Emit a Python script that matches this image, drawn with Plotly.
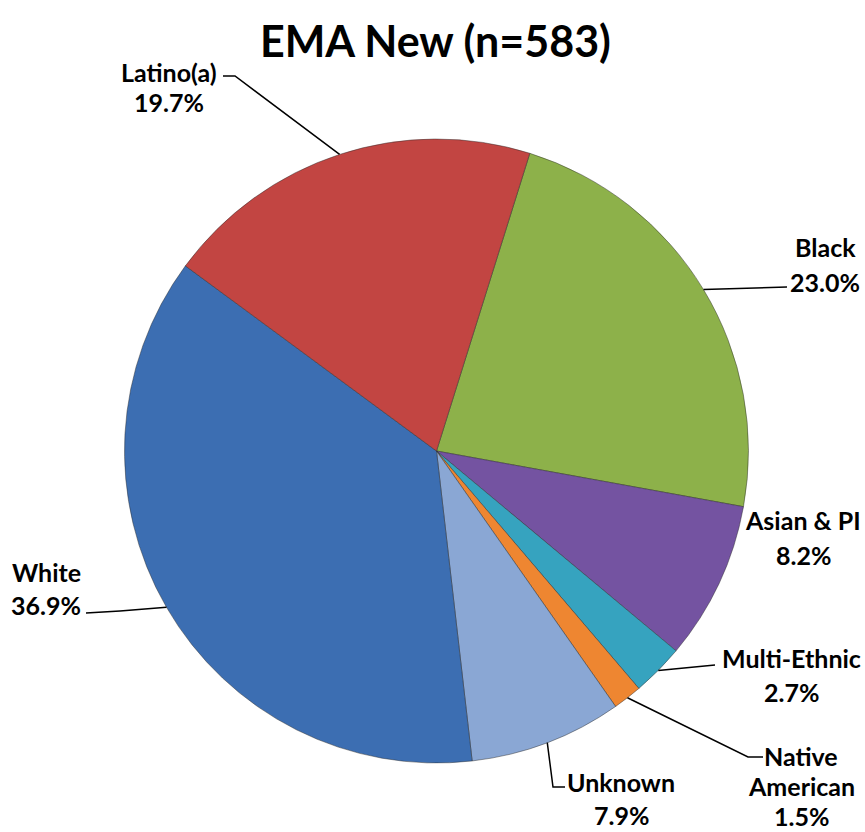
import math
import plotly.graph_objects as go

# ---- data ----
categories = ["Black", "Asian & PI", "Multi-Ethnic", "Native American", "Unknown", "White", "Latino(a)"]
percent = [23.0, 8.2, 2.7, 1.5, 7.9, 36.9, 19.7]
label_lines = [["Black", "23.0%"], ["Asian & PI", "8.2%"], ["Multi-Ethnic", "2.7%"],
               ["Native", "American", "1.5%"], ["Unknown", "7.9%"], ["White", "36.9%"],
               ["Latino(a)", "19.7%"]]
title_text = "EMA New (n=583)"

# ---- style / layout ----
colors = ["#8DB14A", "#7453A1", "#36A3BF", "#EE8631", "#8AA7D4", "#3C6EB2", "#C24542"]
W, H = 865, 832
CX, CY, R = 436.5, 451, 312
ROTATION = 17.4
FONT = "Lato"
LABEL_SIZE = 25

# label layout: (center x, first line y, line spacing), leader-line bend points (pixels)
label_pos = {
    "Black": (825, 247, 35, [(787, 287)]),
    "Asian & PI": (803, 520, 35, None),
    "Multi-Ethnic": (791, 658, 34, [(715, 665)]),
    "Native American": (801, 756, 30, [(748, 757), (763, 757)]),
    "Unknown": (621, 782, 33, [(553, 787), (565, 787)]),
    "White": (46, 572, 33, [(120, 611), (86, 613)]),
    "Latino(a)": (169, 72, 30, [(235, 76), (223, 76)]),
}


def px(x):
    return x / W


def py(y):
    return 1 - y / H


fig = go.Figure()
fig.add_trace(go.Pie(
    labels=categories, values=percent, sort=False, direction="clockwise",
    rotation=ROTATION, textinfo="none", hoverinfo="label+percent",
    marker=dict(colors=colors, line=dict(color="rgba(40,40,40,0.45)", width=1)),
    domain=dict(x=[px(CX - R), px(CX + R)], y=[py(CY + R), py(CY - R)]),
    showlegend=False,
))

total = sum(percent)
annotations = []
shapes = []
acc = 0.0
for cat, val, lines in zip(categories, percent, label_lines):
    mid = math.radians(ROTATION + (acc + val / 2) / total * 360)
    acc += val
    ax = CX + R * math.sin(mid)
    ay = CY - R * math.cos(mid)
    lx, ly, sp, bends = label_pos[cat]
    for i, t in enumerate(lines):
        annotations.append(dict(
            x=px(lx), y=py(ly + i * sp), xref="paper", yref="paper", text=t,
            showarrow=False, xanchor="center", yanchor="middle",
            font=dict(family=FONT, size=LABEL_SIZE, color="black", weight="bold")))
    if bends:
        pts = [(ax, ay)] + bends
        path = "M " + " L ".join(f"{px(x)},{py(y)}" for x, y in pts)
        shapes.append(dict(type="path", xref="paper", yref="paper", path=path,
                           line=dict(color="black", width=1.5)))

annotations.append(dict(
    x=px(435), y=py(41), xref="paper", yref="paper", text=title_text,
    showarrow=False, xanchor="center", yanchor="middle",
    font=dict(family=FONT, size=43, color="black", weight="bold")))

fig.update_layout(
    width=W, height=H, margin=dict(l=0, r=0, t=0, b=0),
    paper_bgcolor="white", plot_bgcolor="white",
    annotations=annotations, shapes=shapes,
)

fig.write_html(
    "out.html",
    config={"displayModeBar": False},
    post_script="document.body.style.margin='0px';document.body.style.overflow='hidden';",
)
